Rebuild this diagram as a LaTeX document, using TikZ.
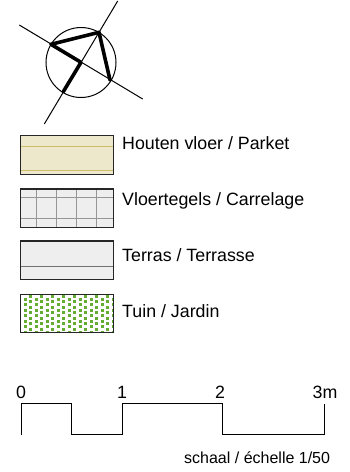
\documentclass[tikz,border=0pt]{standalone}
\usepackage{fontspec}
\setmainfont{Liberation Sans}
\definecolor{wood}{RGB}{237,232,203}
\definecolor{woodline}{RGB}{205,190,110}
\definecolor{tile}{RGB}{238,238,238}
\definecolor{grout}{RGB}{150,150,150}
\definecolor{grass}{RGB}{100,172,50}
\tikzset{
  swatch/.style={draw=black!85,line width=1.3pt},
  legend/.style={anchor=west,inner sep=0pt,font=\fontsize{17.8}{20}\selectfont},
  figure/.style={anchor=base,inner sep=0pt,font=\fontsize{17.8}{20}\selectfont},
  axis/.style={line width=1pt,black},
  heavy/.style={line width=3.6pt,black,line cap=round,line join=round}
}
\begin{document}
\begin{tikzpicture}[x=1pt,y=-1pt]
\useasboundingbox (0,0) rectangle (350,472);
% compass
\draw[line width=1pt] (81,62.5) circle (35);
\draw[line width=1pt] (19.3,25) -- (142.7,99);
\draw[line width=1pt] (117.7,1) -- (44.3,124);
\draw[heavy] (63.3,91.7) -- (81,62.3) -- (51,44.3) -- (99,32.3) -- (110,80);
% parket
\fill[wood] (20.7,135.7) rectangle (113.7,174.7);
\draw[woodline,line width=1pt] (20.7,146) -- (113.7,146) (20.7,170.7) -- (113.7,170.7);
\draw[swatch] (20.7,135.7) rectangle (113.7,174.7);
\node[legend] (parket) at (122,143) {Houten vloer / Parket};
% tegels
\fill[tile] (20.7,189) rectangle (113.7,227.5);
\draw[grout,line width=1pt] (20.7,197.7) -- (113.7,197.7) (20.7,218.3) -- (113.7,218.3)
  (36.7,189) -- (36.7,227.5) (56.7,189) -- (56.7,227.5) (76.7,189) -- (76.7,227.5) (96.7,189) -- (96.7,227.5);
\draw[swatch] (20.7,189) rectangle (113.7,227.5);
\node[legend] (tegels) at (122,201) {Vloertegels / Carrelage};
% terras
\fill[tile] (20.7,241) rectangle (113.7,279.3);
\draw[black!55,line width=1pt] (20.7,266.7) -- (113.7,266.7);
\draw[swatch] (20.7,241) rectangle (113.7,279.3);
\node[legend] (terras) at (122,255) {Terras / Terrasse};
% tuin
\begin{scope}
\clip (20.7,294.3) rectangle (113.7,332.3);
\foreach \i in {0,...,8} \foreach \j in {0,...,7} {
  \fill[grass] ({25.3+11*\i-1.4},{299.3+5.5*\j-1.4}) rectangle +(2.8,2.8);
  \fill[grass] ({30.5+11*\i-1.4},{296.3+5.5*\j-1.4}) rectangle +(2.8,2.8);
}
\end{scope}
\draw[swatch] (20.7,294.3) rectangle (113.7,332.3);
\node[legend] (tuin) at (122,311) {Tuin / Jardin};
% scale
\node[figure] (n0) at (21,398) {0};
\node[figure] (n1) at (122,398) {1};
\node[figure] (n2) at (220,398) {2};
\node[figure] (n3) at (325,398) {3m};
\draw[axis] (21,434.7) -- (21,403.7) -- (71.3,403.7) -- (71.3,434.3) -- (122,434.3) -- (122,403.7) -- (222.7,403.7) -- (222.7,434.3) -- (324,434.3) -- (324,403.7);
\node[anchor=base west,inner sep=0pt,font=\fontsize{16}{18}\selectfont] (schaal) at (184,463) {schaal / échelle 1/50};
\end{tikzpicture}
\end{document}
